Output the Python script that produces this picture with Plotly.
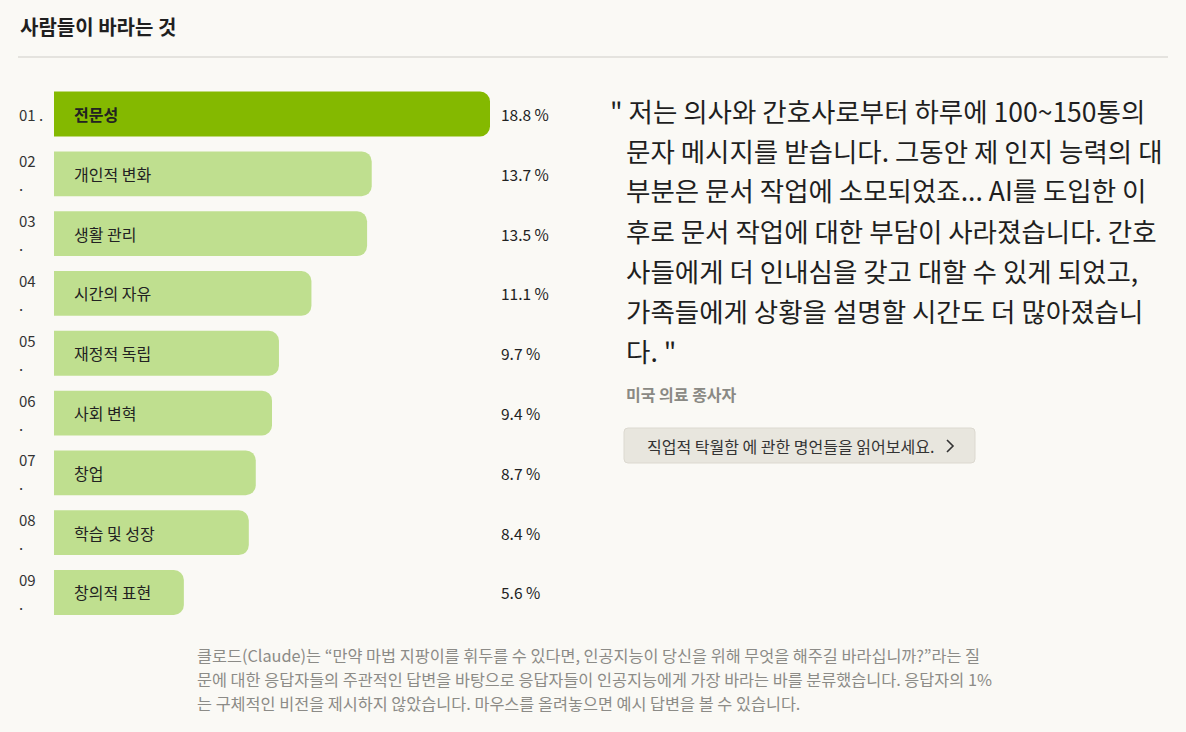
#!/usr/bin/env python3
"""
What people hope for - horizontal bar chart with quote panel
Output: out.html
"""

import plotly.graph_objects as go

# data
ranks = ['01', '02', '03', '04', '05', '06', '07', '08', '09']
categories = ['전문성', '개인적 변화', '생활 관리', '시간의 자유', '재정적 독립',
              '사회 변혁', '창업', '학습 및 성장', '창의적 표현']
shares = [18.8, 13.7, 13.5, 11.1, 9.7, 9.4, 8.7, 8.4, 5.6]

title_text = '사람들이 바라는 것'
quote_lines = [
    '" 저는 의사와 간호사로부터 하루에 100~150통의',
    '문자 메시지를 받습니다. 그동안 제 인지 능력의 대',
    '부분은 문서 작업에 소모되었죠... AI를 도입한 이',
    '후로 문서 작업에 대한 부담이 사라졌습니다. 간호',
    '사들에게 더 인내심을 갖고 대할 수 있게 되었고,',
    '가족들에게 상황을 설명할 시간도 더 많아졌습니',
    '다. "',
]
quote_source = '미국 의료 종사자'
button_text = '직업적 탁월함 에 관한 명언들을 읽어보세요.'
footnote_lines = [
    '클로드(Claude)는 “만약 마법 지팡이를 휘두를 수 있다면, 인공지능이 당신을 위해 무엇을 해주길 바라십니까?”라는 질',
    '문에 대한 응답자들의 주관적인 답변을 바탕으로 응답자들이 인공지능에게 가장 바라는 바를 분류했습니다. 응답자의 1%',
    '는 구체적인 비전을 제시하지 않았습니다. 마우스를 올려놓으면 예시 답변을 볼 수 있습니다.',
]

W, H = 1186, 732
BG = '#faf9f5'
FONT = 'Noto Sans CJK KR'
DARK_GREEN = '#84b900'
LIGHT_GREEN = '#bfdf8f'


def px(x):
    return x / W


def py(y):
    return 1 - y / H


def rounded_rect(x0, y0, x1, y1, r):
    # pixel box -> paper-coordinate svg path with rounded corners
    pts = [
        f'M {px(x0 + r)} {py(y0)}',
        f'L {px(x1 - r)} {py(y0)}',
        f'Q {px(x1)} {py(y0)} {px(x1)} {py(y0 + r)}',
        f'L {px(x1)} {py(y1 - r)}',
        f'Q {px(x1)} {py(y1)} {px(x1 - r)} {py(y1)}',
        f'L {px(x0 + r)} {py(y1)}',
        f'Q {px(x0)} {py(y1)} {px(x0)} {py(y1 - r)}',
        f'L {px(x0)} {py(y0 + r)}',
        f'Q {px(x0)} {py(y0)} {px(x0 + r)} {py(y0)}',
        'Z',
    ]
    return ' '.join(pts)


colors = [DARK_GREEN] + [LIGHT_GREEN] * (len(categories) - 1)

fig = go.Figure(go.Bar(
    x=shares,
    y=categories,
    orientation='h',
    marker=dict(color=colors, line=dict(width=0)),
    width=0.75,
    hoverinfo='skip',
))

annotations = []

# title
annotations.append(dict(x=px(18), y=py(27), xref='paper', yref='paper',
                        text='<b>' + title_text + '</b>', showarrow=False,
                        xanchor='left', yanchor='middle',
                        font=dict(size=20, color='#1f1f1f', family=FONT)))

# bar labels, ranks and percentages
for i, (r, c, v) in enumerate(zip(ranks, categories, shares)):
    label = '<b>' + c + '</b>' if i == 0 else c
    annotations.append(dict(x=0, y=c, xref='x', yref='y', text=label,
                            showarrow=False, xanchor='left', yanchor='middle',
                            xshift=18,
                            font=dict(size=16, color='#222', family=FONT)))
    annotations.append(dict(x=px(499), y=c, xref='paper', yref='y',
                            text=f'{v} %', showarrow=False,
                            xanchor='left', yanchor='middle',
                            font=dict(size=15.5, color='#222', family=FONT)))
    if i == 0:
        annotations.append(dict(x=px(17), y=c, xref='paper', yref='y',
                                text=r + ' .', showarrow=False,
                                xanchor='left', yanchor='middle',
                                font=dict(size=15, color='#333', family=FONT)))
    else:
        annotations.append(dict(x=px(17), y=c, xref='paper', yref='y',
                                text=r, showarrow=False, yshift=13,
                                xanchor='left', yanchor='middle',
                                font=dict(size=15, color='#333', family=FONT)))
        annotations.append(dict(x=px(17), y=c, xref='paper', yref='y',
                                text='.', showarrow=False, yshift=-11,
                                xanchor='left', yanchor='middle',
                                font=dict(size=15, color='#333', family=FONT)))

# quote
for k, line in enumerate(quote_lines):
    x0 = 608 if k == 0 else 624
    annotations.append(dict(x=px(x0), y=py(110 + 40 * k), xref='paper', yref='paper',
                            text=line, showarrow=False,
                            xanchor='left', yanchor='middle',
                            font=dict(size=26.5, color='#1f1f1f', family=FONT)))

annotations.append(dict(x=px(624), y=py(394), xref='paper', yref='paper',
                        text='<b>' + quote_source + '</b>', showarrow=False,
                        xanchor='left', yanchor='middle',
                        font=dict(size=16, color='#8a8984', family=FONT)))

annotations.append(dict(x=px(645), y=py(446), xref='paper', yref='paper',
                        text=button_text, showarrow=False,
                        xanchor='left', yanchor='middle',
                        font=dict(size=16, color='#333', family=FONT)))

# footnote
for k, line in enumerate(footnote_lines):
    annotations.append(dict(x=px(195), y=py(655 + 24 * k), xref='paper', yref='paper',
                            text=line, showarrow=False,
                            xanchor='left', yanchor='middle',
                            font=dict(size=16.3, color='#8c8b87', family=FONT)))

shapes = [
    # rule under the title
    dict(type='line', xref='paper', yref='paper',
         x0=px(18), x1=px(1168), y0=py(57), y1=py(57),
         line=dict(color='#cfcdc8', width=1)),
    # button
    dict(type='path', xref='paper', yref='paper',
         path=rounded_rect(624, 428, 975, 463, 4),
         fillcolor='#e8e6de', line=dict(color='#dcd9d0', width=1), layer='below'),
    # chevron
    dict(type='path', xref='paper', yref='paper',
         path=f'M {px(947)} {py(440)} L {px(953)} {py(446)} L {px(947)} {py(452)}',
         line=dict(color='#333', width=1.6)),
]

fig.update_layout(
    width=W, height=H,
    margin=dict(l=0, r=0, t=0, b=0),
    paper_bgcolor=BG, plot_bgcolor=BG,
    showlegend=False,
    barcornerradius=10,
    xaxis=dict(domain=[px(54), px(490)], range=[0, 18.8],
               visible=False, fixedrange=True),
    yaxis=dict(domain=[py(622.4), py(84.1)], range=[8.5, -0.5],
               categoryorder='array', categoryarray=categories,
               visible=False, fixedrange=True),
    annotations=annotations,
    shapes=shapes,
    font=dict(family=FONT),
)

# drop the default page margin so the figure sits at the window corner
fig.write_html('out.html', post_script="document.body.style.margin='0';",
               config={'displayModeBar': False})
